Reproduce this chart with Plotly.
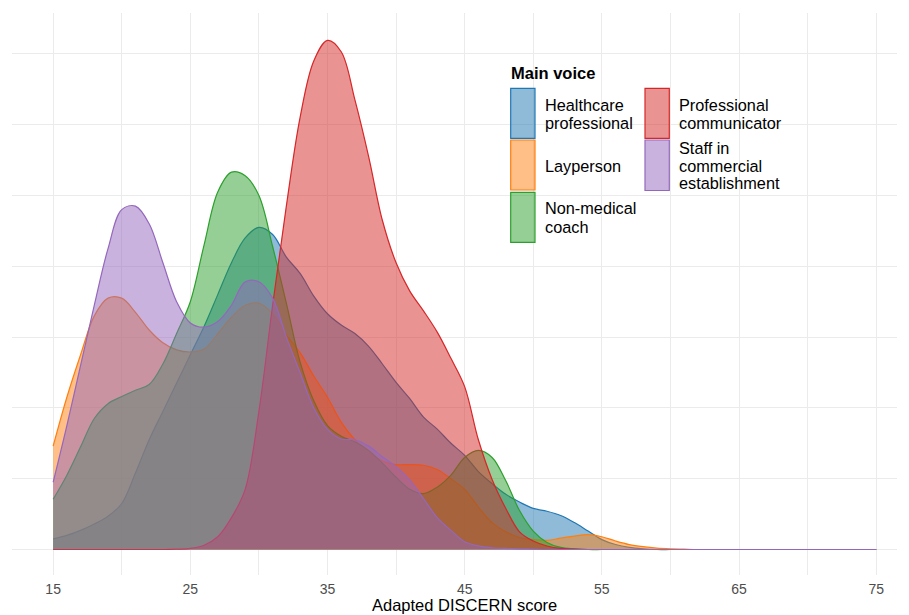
import plotly.graph_objects as go

# Adapted DISCERN score grid
x_vals = list(range(15, 76))

# Kernel density estimates (density x 100)
healthcare = [0.15, 0.20, 0.27, 0.36, 0.47, 0.65, 1.08, 1.55, 1.95, 2.35,
              2.75, 3.15, 3.60, 4.05, 4.40, 4.55, 4.45, 4.13, 3.90, 3.58,
              3.33, 3.17, 3.05, 2.87, 2.62, 2.36, 2.13, 1.87, 1.70, 1.50,
              1.33, 1.10, 0.93, 0.78, 0.67, 0.58, 0.54, 0.48, 0.38, 0.26,
              0.14, 0.07, 0.03, 0.01, 0, 0, 0, 0, 0, 0,
              0, 0, 0, 0, 0, 0, 0, 0, 0, 0, 0]
layperson = [1.46, 2.15, 2.75, 3.30, 3.55, 3.55, 3.35, 3.10, 2.92, 2.82,
             2.79, 2.83, 3.05, 3.28, 3.45, 3.48, 3.33, 3.03, 2.78, 2.45,
             2.15, 1.80, 1.55, 1.38, 1.25, 1.20, 1.20, 1.19, 1.13, 1.00,
             0.85, 0.60, 0.38, 0.25, 0.17, 0.14, 0.13, 0.16, 0.19, 0.21,
             0.18, 0.12, 0.07, 0.04, 0.02, 0.01, 0.005, 0, 0, 0,
             0, 0, 0, 0, 0, 0, 0, 0, 0, 0, 0]
nonmedical = [0.71, 1.05, 1.45, 1.85, 2.06, 2.16, 2.25, 2.33, 2.62, 3.05,
              3.50, 4.30, 5.05, 5.33, 5.28, 5.00, 4.28, 3.48, 2.65, 2.10,
              1.75, 1.60, 1.52, 1.40, 1.22, 1.02, 0.85, 0.79, 0.88, 1.05,
              1.30, 1.40, 1.30, 0.97, 0.55, 0.26, 0.10, 0.03, 0.01, 0,
              0, 0, 0, 0, 0, 0, 0, 0, 0, 0,
              0, 0, 0, 0, 0, 0, 0, 0, 0, 0, 0]
professional = [0, 0, 0, 0, 0, 0, 0, 0, 0, 0.005,
                0.015, 0.06, 0.18, 0.45, 0.85, 1.95, 3.45, 4.85, 6.10, 6.90,
                7.19, 7.03, 6.35, 5.55, 4.65, 4.05, 3.65, 3.37, 3.07, 2.70,
                2.30, 1.55, 0.99, 0.58, 0.25, 0.12, 0.05, 0.015, 0.005, 0,
                0, 0, 0, 0, 0, 0, 0, 0, 0, 0,
                0, 0, 0, 0, 0, 0, 0, 0, 0, 0, 0]
staff = [0.95, 1.75, 2.60, 3.45, 4.25, 4.80, 4.85, 4.60, 4.05, 3.50,
         3.20, 3.14, 3.22, 3.45, 3.78, 3.78, 3.55, 3.00, 2.50, 2.00,
         1.70, 1.56, 1.55, 1.46, 1.31, 1.17, 0.98, 0.72, 0.45, 0.27,
         0.11, 0.05, 0.025, 0.015, 0.01, 0.005, 0, 0, 0, 0,
         0, 0, 0, 0, 0, 0, 0, 0, 0, 0,
         0, 0, 0, 0, 0, 0, 0, 0, 0, 0, 0]

group_names = ["Healthcare professional", "Layperson", "Non-medical coach",
               "Professional communicator", "Staff in commercial establishment"]
group_values = [healthcare, layperson, nonmedical, professional, staff]
colors = ["#1F77B4", "#FF7F0E", "#2CA02C", "#D62728", "#9467BD"]

x_tick_vals = [15, 25, 35, 45, 55, 65, 75]
x_tick_text = ["15", "25", "35", "45", "55", "65", "75"]
x_minor_vals = [20, 30, 40, 50, 60, 70]


def rgba(hex_color, a):
    h = hex_color.lstrip("#")
    r, g, b = int(h[0:2], 16), int(h[2:4], 16), int(h[4:6], 16)
    return f"rgba({r},{g},{b},{a})"


fig = go.Figure()
for name, vals, col in zip(group_names, group_values, colors):
    fig.add_trace(go.Scatter(
        x=x_vals, y=vals, name=name, mode="lines",
        line=dict(color=col, width=1.2, shape="spline", smoothing=1.0),
        fill="tozeroy", fillcolor=rgba(col, 0.5), showlegend=False,
    ))

# Figure geometry. The page body adds an 8px offset, so screen targets are
# converted to figure pixels by subtracting OFF.
OFF = 8
FW, FH = 909, 615
PLOT_LEFT, PLOT_RIGHT, PLOT_TOP, PLOT_BOTTOM = 12, 897, 13, 575   # screen px
ML = PLOT_LEFT - OFF
MT = PLOT_TOP - OFF
MR = FW - (PLOT_RIGHT - OFF)
MB = FH - (PLOT_BOTTOM - OFF)
PW = PLOT_RIGHT - PLOT_LEFT
PH = PLOT_BOTTOM - PLOT_TOP


def pxx(p):
    return (p - PLOT_LEFT) / PW


def pxy(p):
    return (PLOT_BOTTOM - p) / PH


FONT = "Liberation Sans, Arial, Helvetica, sans-serif"

shapes = []
annotations = []

# Custom legend (ggplot style) inside the panel
legend_keys = [
    (colors[0], 510.7, 535, 88.3, 138.3, [("Healthcare", 105), ("professional", 123.3)], 543),
    (colors[1], 510.7, 535, 140, 190, [("Layperson", 166)], 543),
    (colors[2], 510.7, 535, 192.3, 242.3, [("Non-medical", 208.3), ("coach", 226.7)], 543),
    (colors[3], 645, 669.3, 88.3, 138.3, [("Professional", 105), ("communicator", 123.3)], 677),
    (colors[4], 645, 669.3, 140, 190.5, [("Staff in", 148.3), ("commercial", 166), ("establishment", 183.3)], 677),
]
for col, x0, x1, y0, y1, lines, tx in legend_keys:
    shapes.append(dict(type="rect", xref="paper", yref="paper",
                       x0=pxx(x0), x1=pxx(x1), y0=pxy(y1), y1=pxy(y0),
                       fillcolor=rgba(col, 0.5), line=dict(color=col, width=1.2)))
    for t, yc in lines:
        annotations.append(dict(text=t, xref="paper", yref="paper",
                                x=pxx(tx), y=pxy(yc), xanchor="left", yanchor="middle",
                                showarrow=False, font=dict(family=FONT, size=16.3, color="#000000")))

annotations.append(dict(text="<b>Main voice</b>", xref="paper", yref="paper",
                        x=pxx(509), y=pxy(73), xanchor="left", yanchor="middle",
                        showarrow=False, font=dict(family=FONT, size=16.5, color="#000000")))

# x-axis title
annotations.append(dict(text="Adapted DISCERN score", xref="paper", yref="paper",
                        x=pxx(464), y=pxy(605), xanchor="center", yanchor="middle",
                        showarrow=False, font=dict(family=FONT, size=16.5, color="#000000")))

fig.update_layout(
    width=FW, height=FH,
    margin=dict(l=ML, r=MR, t=MT, b=MB, autoexpand=False),
    paper_bgcolor="white", plot_bgcolor="white",
    font=dict(family=FONT),
    shapes=shapes, annotations=annotations,
    showlegend=False,
    xaxis=dict(range=[12, 12 + PW / 13.717], tickmode="array",
               tickvals=x_tick_vals, ticktext=x_tick_text,
               showgrid=True, gridcolor="#EBEBEB", gridwidth=1,
               minor=dict(tickmode="array", tickvals=x_minor_vals, showgrid=True,
                          gridcolor="#EBEBEB", gridwidth=1, ticks=""),
               zeroline=False, showline=False, ticks="",
               tickfont=dict(family=FONT, size=14, color="#4D4D4D"),
               ticklabelstandoff=4),
    yaxis=dict(range=[-(PLOT_BOTTOM - 549.5) / 70.8, (549.5 - PLOT_TOP) / 70.8],
               tickmode="linear", tick0=0, dtick=1,
               showgrid=True, gridcolor="#EBEBEB", gridwidth=1,
               zeroline=False, showline=False, showticklabels=False, ticks=""),
)

fig.write_html("out.html")
